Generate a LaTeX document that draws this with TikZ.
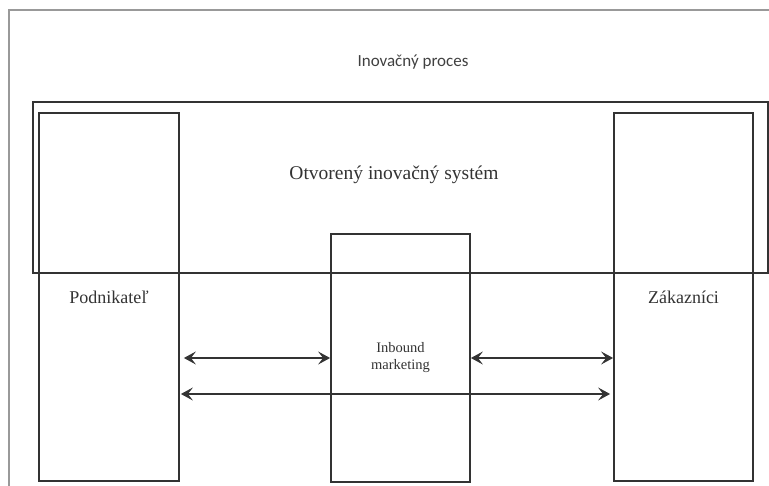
\documentclass[tikz,border=0pt]{standalone}
\usepackage{fontspec}
\setmainfont{Liberation Serif}
\newfontfamily\calibrifont{Carlito}
\usetikzlibrary{arrows.meta,positioning,calc}

\begin{document}
\begin{tikzpicture}[
    x=1pt, y=-1pt,
    frame/.style={draw=black!40, line width=1.4pt},
    block/.style={rectangle, draw=black!80, line width=1.8pt, inner sep=0pt, text=black!80, font=\fontsize{18}{20}\selectfont},
    system/.style={rectangle, draw=black!80, line width=1.8pt, inner sep=0pt, minimum width=735, minimum height=171},
    arrow/.style={{Stealth[length=12pt,width=13pt,inset=5pt]}-{Stealth[length=12pt,width=13pt,inset=5pt]}, draw=black!80, line width=1.1pt}
]
\useasboundingbox (0,0) rectangle (769,486);

% Frame
\draw[frame] (9,486) |- (769,10);
\node[font=\calibrifont\fontsize{17}{19}\selectfont, text=black!75] (procTitle) at (413,62) {Inovačný proces};

% System
\node[system] (openSystem) at (400.5,187.5) {};
\node[font=\fontsize{19.5}{22}\selectfont, text=black!80] (systemTitle) at (394,175) {Otvorený inovačný systém};

% Actors
\node[block, minimum width=140, minimum height=368] (entrepreneur) at (109,297) {Podnikateľ};
\node[block, minimum width=139, minimum height=368] (customers) at (683.5,297) {Zákazníci};
\node[block, minimum width=139, minimum height=248, align=center, font=\fontsize{14.5}{17}\selectfont] (inbound) at (400.5,358) {Inbound\\marketing};

% Arrows
\coordinate (lowRow) at (0,394);
\draw[arrow] ([xshift=4pt]inbound.west -| entrepreneur.east) -- (inbound.west);
\draw[arrow] (inbound.east) -- (inbound.east -| customers.west);
\draw[arrow] ([xshift=1pt]lowRow -| entrepreneur.east) -- ([xshift=-3pt]lowRow -| customers.west);

\end{tikzpicture}
\end{document}
